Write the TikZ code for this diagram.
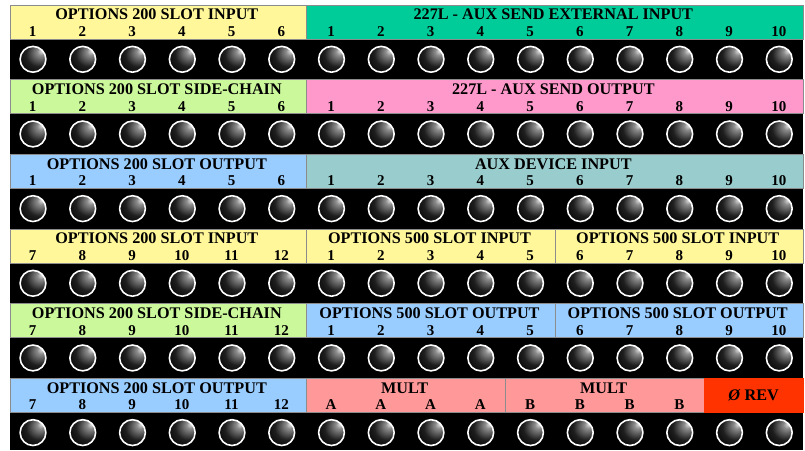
\documentclass[tikz,border=0pt]{standalone}
\usepackage{fontspec}
\setmainfont{Liberation Serif}
\definecolor{cYel}{HTML}{FFF799}
\definecolor{cTeal}{HTML}{00CC99}
\definecolor{cLgrn}{HTML}{CCF89C}
\definecolor{cPink}{HTML}{FF99CC}
\definecolor{cBlue}{HTML}{99CCFF}
\definecolor{cGteal}{HTML}{99CCCC}
\definecolor{cSalm}{HTML}{FF9999}
\definecolor{cRed}{HTML}{FF3300}
\pgfdeclareradialshading{jackshade}{\pgfpoint{17bp}{17bp}}{color(0bp)=(black!10); color(7bp)=(black!45); color(24bp)=(black!88); color(42bp)=(black); color(60bp)=(black)}
\newcommand\hseg[7]{% name, row, first col, last col, colour, title, labels
  \pgfmathsetmacro\tp{5+#2*74.66}
  \pgfmathsetmacro\xl{max(10,8.125+49.75*(#3-1))}
  \pgfmathsetmacro\xr{min(803,8.125+49.75*#4)}
  \filldraw[hdr, fill=#5] (\xl,\tp) rectangle (\xr,\tp+34);
  \node[ttl] (#1) at ({(\xl+\xr)/2-1.5}, \tp+14.8) {#6};
  \foreach \t [count=\k from 0] in {#7}
    \node[num] (#1-\k) at ({32.5+49.75*(#3+\k-1)}, \tp+31.4) {\t};
}
\begin{document}
\begin{tikzpicture}[x=1pt,y=-1pt,
  hdr/.style={draw=black!45, line width=0.6pt},
  ttl/.style={font=\bfseries\fontsize{16.2}{16.2}\selectfont, inner sep=0pt, anchor=base},
  num/.style={font=\bfseries\fontsize{15}{15}\selectfont, inner sep=0pt, anchor=base},
  jack/.style={circle, draw=white, line width=1.6pt, minimum size=25.8pt, inner sep=0pt, shade, shading=jackshade}]
\fill[white] (0,0) rectangle (805,450);
\useasboundingbox (0,0) rectangle (805,450);
% black jack strips
\foreach \r in {0,...,5}
  \fill[black] (10,{5+\r*74.66+34}) rectangle (803,{min(450,5+\r*74.66+74.66)});
% header segments
\hseg{r1a}{0}{1}{6}{cYel}{OPTIONS 200 SLOT INPUT}{1,2,3,4,5,6}
\hseg{r1b}{0}{7}{16}{cTeal}{227L - AUX SEND EXTERNAL INPUT}{1,2,3,4,5,6,7,8,9,10}
\hseg{r2a}{1}{1}{6}{cLgrn}{OPTIONS 200 SLOT SIDE-CHAIN}{1,2,3,4,5,6}
\hseg{r2b}{1}{7}{16}{cPink}{227L - AUX SEND OUTPUT}{1,2,3,4,5,6,7,8,9,10}
\hseg{r3a}{2}{1}{6}{cBlue}{OPTIONS 200 SLOT OUTPUT}{1,2,3,4,5,6}
\hseg{r3b}{2}{7}{16}{cGteal}{AUX DEVICE INPUT}{1,2,3,4,5,6,7,8,9,10}
\hseg{r4a}{3}{1}{6}{cYel}{OPTIONS 200 SLOT INPUT}{7,8,9,10,11,12}
\hseg{r4b}{3}{7}{11}{cYel}{OPTIONS 500 SLOT INPUT}{1,2,3,4,5}
\hseg{r4c}{3}{12}{16}{cYel}{OPTIONS 500 SLOT INPUT}{6,7,8,9,10}
\hseg{r5a}{4}{1}{6}{cLgrn}{OPTIONS 200 SLOT SIDE-CHAIN}{7,8,9,10,11,12}
\hseg{r5b}{4}{7}{11}{cBlue}{OPTIONS 500 SLOT OUTPUT}{1,2,3,4,5}
\hseg{r5c}{4}{12}{16}{cBlue}{OPTIONS 500 SLOT OUTPUT}{6,7,8,9,10}
\hseg{r6a}{5}{1}{6}{cBlue}{OPTIONS 200 SLOT OUTPUT}{7,8,9,10,11,12}
\hseg{r6b}{5}{7}{10}{cSalm}{MULT}{A,A,A,A}
\hseg{r6c}{5}{11}{14}{cSalm}{MULT}{B,B,B,B}
% phase reverse
\pgfmathsetmacro\tp{5+5*74.66}
\filldraw[hdr, draw=cRed, fill=cRed] (704.25,\tp) rectangle (803,\tp+34);
\node[ttl, anchor=center] (rev) at (753.6,\tp+17) {\textit{Ø} REV};
% jacks
\foreach \r in {0,...,5}
  \foreach \c in {1,...,16}
    \node[jack] (j\r-\c) at ({33+49.75*(\c-1)}, {5+\r*74.66+54.3}) {};
\end{tikzpicture}
\end{document}
